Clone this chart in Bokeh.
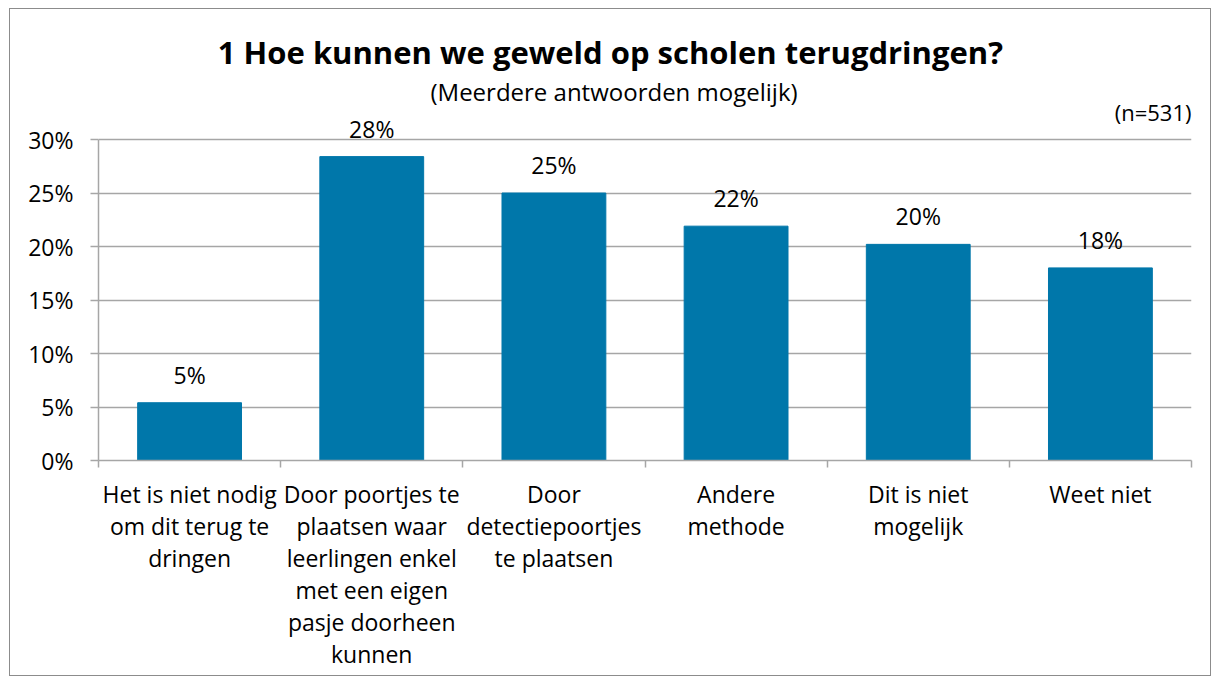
from bokeh.plotting import figure
from bokeh.models import (ColumnDataSource, LabelSet, FixedTicker,
                          PrintfTickFormatter, Range1d)
from bokeh.core.properties import value
from bokeh.embed import file_html
from bokeh.resources import INLINE

# ---- data ----
title_text = "1 Hoe kunnen we geweld op scholen terugdringen?"
subtitle_text = "(Meerdere antwoorden mogelijk)"
sample_text = "(n=531)"
categories = [
    "Het is niet nodig\nom dit terug te\ndringen",
    "Door poortjes te\nplaatsen waar\nleerlingen enkel\nmet een eigen\npasje doorheen\nkunnen",
    "Door\ndetectiepoortjes\nte plaatsen",
    "Andere\nmethode",
    "Dit is niet\nmogelijk",
    "Weet niet",
]
values = [5.4, 28.4, 25.0, 21.9, 20.2, 18.0]
y_ticks = [0, 5, 10, 15, 20, 25, 30]

# ---- styling ----
FONT = "Open Sans"
BAR_COLOR = "#0077AA"
GRID_COLOR = "#a6a6a6"
TEXT_COLOR = "#000000"

W, H = 1202, 668
FRAME_L, FRAME_R_PAD, FRAME_BOTTOM_PAD = 88, 21, 217
frame_h = H - FRAME_BOTTOM_PAD          # frame starts at the very top
grid_h = 321                            # pixel height of the 0..30% span
y_top = y_ticks[-1] * frame_h / grid_h  # headroom above the 30% line holds the titles

n = len(categories)
centers = [i + 0.5 for i in range(n)]
boundaries = list(range(n + 1))
value_labels = [f"{round(v)}%" for v in values]

src = ColumnDataSource(dict(x=centers, top=values, lab=value_labels))

p = figure(width=W, height=H, output_backend="svg", toolbar_location=None,
           x_range=Range1d(0, n), y_range=Range1d(0, y_top),
           min_border_left=FRAME_L, min_border_right=FRAME_R_PAD, min_border_top=0,
           min_border_bottom=FRAME_BOTTOM_PAD,
           styles={"margin-left": "9px", "margin-top": "8px",
                   "border": "1px solid #8c8c8c"})
p.outline_line_color = None
p.background_fill_color = "white"
p.border_fill_color = "white"

p.vbar(x="x", top="top", width=0.57, bottom=0, source=src,
       fill_color=BAR_COLOR, line_color=BAR_COLOR)

# y axis (line only across 0..30%)
p.yaxis.bounds = (y_ticks[0], y_ticks[-1])
p.yaxis.ticker = FixedTicker(ticks=y_ticks)
p.yaxis.formatter = PrintfTickFormatter(format="%d%%")
p.yaxis.major_label_text_font = FONT
p.yaxis.major_label_text_font_size = "23px"
p.yaxis.major_label_text_color = TEXT_COLOR
p.yaxis.major_tick_out = 8
p.yaxis.major_tick_in = 0
p.yaxis.minor_tick_line_color = None
p.yaxis.major_tick_line_color = GRID_COLOR
p.yaxis.axis_line_color = GRID_COLOR
p.yaxis.major_tick_line_width = 1.5
p.yaxis.axis_line_width = 1.5
p.yaxis.major_label_standoff = 17

# x axis: labels at category centres, tick marks at category boundaries
p.xaxis.ticker = FixedTicker(ticks=centers, minor_ticks=boundaries)
p.xaxis.major_label_overrides = {c: cat for c, cat in zip(centers, categories)}
p.xaxis.major_label_text_font = FONT
p.xaxis.major_label_text_font_size = "23px"
p.xaxis.major_label_text_color = TEXT_COLOR
p.xaxis.major_label_text_line_height = 1.0
p.xaxis.major_label_standoff = 10
p.xaxis.major_tick_line_color = None
p.xaxis.major_tick_out = 0
p.xaxis.major_tick_in = 0
p.xaxis.minor_tick_out = 7
p.xaxis.minor_tick_in = 0
p.xaxis.minor_tick_line_color = GRID_COLOR
p.xaxis.minor_tick_line_width = 1.5
p.xaxis.axis_line_color = GRID_COLOR
p.xaxis.axis_line_width = 1.5

p.xgrid.grid_line_color = None
p.ygrid.ticker = FixedTicker(ticks=y_ticks)
p.ygrid.grid_line_color = GRID_COLOR
p.ygrid.grid_line_width = 1.5

# value labels above bars
p.add_layout(LabelSet(x="x", y="top", text="lab", source=src, y_offset=19,
                      text_align="center", text_baseline="alphabetic",
                      text_font=value(FONT), text_font_size="23px",
                      text_color=TEXT_COLOR))

# titles (inside the headroom of the frame)
p.text(x=[2.81], y=[38.2], text=[title_text], text_align="center",
       text_baseline="alphabetic", text_font=value(FONT), text_font_style="bold",
       text_font_size="31px", text_color=TEXT_COLOR)
p.text(x=[2.83], y=[34.45], text=[subtitle_text], text_align="center",
       text_baseline="alphabetic", text_font=value(FONT),
       text_font_size="24px", text_color=TEXT_COLOR)
p.text(x=[n], y=[32.6], text=[sample_text], text_align="right",
       text_baseline="alphabetic", text_font=value(FONT),
       text_font_size="22px", text_color=TEXT_COLOR)

open("out.html", "w").write(file_html(p, INLINE))
